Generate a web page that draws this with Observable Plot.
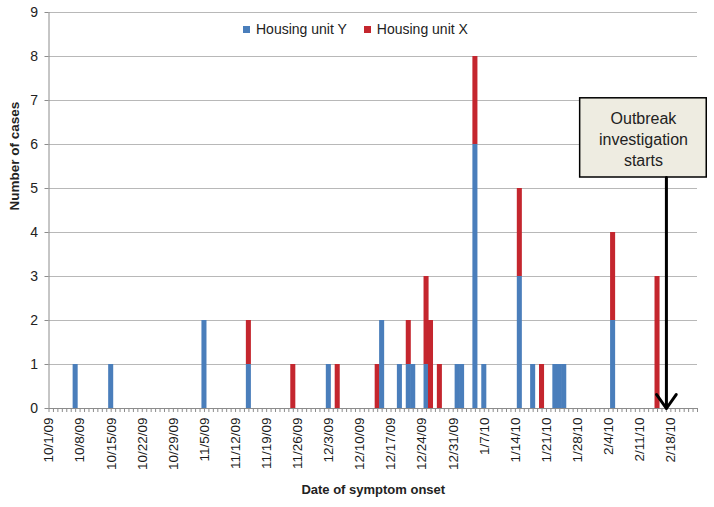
<!DOCTYPE html>
<html>
<head>
<meta charset="utf-8">
<script src="https://cdn.jsdelivr.net/npm/d3@7"></script>
<script src="https://cdn.jsdelivr.net/npm/@observablehq/plot@0.6"></script>
<style>
  html, body { margin: 0; padding: 0; background: #fff; }
  #chart { position: relative; width: 714px; height: 507px; font-family: "Liberation Sans", Arial, sans-serif; color: #222; }
  #chart svg { display: block; }
  .legend { position: absolute; top: 20px; left: 243px; display: flex; align-items: center; font-size: 14px; line-height: 18px; color: #222; white-space: nowrap; }
  .legend .item { display: flex; align-items: center; margin-right: 17px; }
  .legend .sw { width: 7px; height: 7px; margin-right: 6px; }
</style>
</head>
<body>
<div id="chart"></div>
<script>
// ---- data ----
const dates = [
  "2009-10-07", "2009-10-15", "2009-11-05", "2009-11-15", "2009-11-25",
  "2009-12-03", "2009-12-05", "2009-12-14", "2009-12-15", "2009-12-19",
  "2009-12-21", "2009-12-22", "2009-12-25", "2009-12-26", "2009-12-28",
  "2010-01-01", "2010-01-02", "2010-01-05", "2010-01-07", "2010-01-15",
  "2010-01-18", "2010-01-20", "2010-01-23", "2010-01-24", "2010-01-25",
  "2010-02-05", "2010-02-15"
];
const unitY = [1, 1, 2, 1, 0, 1, 0, 0, 2, 1, 1, 1, 1, 0, 0, 1, 1, 6, 1, 3, 1, 0, 1, 1, 1, 2, 0];
const unitX = [0, 0, 0, 1, 1, 0, 1, 1, 0, 0, 1, 0, 2, 2, 1, 0, 0, 2, 0, 2, 0, 1, 0, 0, 0, 2, 3];
const seriesNames = ["Housing unit Y", "Housing unit X"];
const seriesColors = ["#4a7ebb", "#c4262e"];
const yTicks = [0, 1, 2, 3, 4, 5, 6, 7, 8, 9];
const xTickLabels = [
  "10/1/09", "10/8/09", "10/15/09", "10/22/09", "10/29/09", "11/5/09", "11/12/09",
  "11/19/09", "11/26/09", "12/3/09", "12/10/09", "12/17/09", "12/24/09", "12/31/09",
  "1/7/10", "1/14/10", "1/21/10", "1/28/10", "2/4/10", "2/11/10", "2/18/10"
];
const xDomain = ["2009-10-01", "2010-02-24"];
const annotationLines = ["Outbreak", "investigation", "starts"];
const annotationBox = { x1: "2010-01-28T14:00Z", x2: "2010-02-26T02:00Z", y1: 5.25, y2: 7.05 };
const annotationArrow = { date: "2010-02-17", y1: 5.25, y2: 0 };

// ---- build ----
const parse = d3.isoParse;
const rows = [];
dates.forEach((d, i) => {
  const date = parse(d);
  if (unitY[i] > 0) rows.push({ date, series: seriesNames[0], count: unitY[i] });
  if (unitX[i] > 0) rows.push({ date, series: seriesNames[1], count: unitX[i] });
});
const xStart = parse(xDomain[0]);
const xEnd = parse(xDomain[1]);
const allDays = d3.utcDay.range(xStart, d3.utcDay.offset(xEnd, 1));
const parseTick = d3.utcParse("%m/%d/%y");
const tickDates = xTickLabels.map(parseTick);
const labelByTime = new Map(tickDates.map((d, i) => [+d, xTickLabels[i]]));
const boxMid = new Date((+parse(annotationBox.x1) + +parse(annotationBox.x2)) / 2);
const axisColor = "#8c8c8c";

const plot = Plot.plot({
  width: 714,
  height: 507,
  marginLeft: 48.5,
  marginRight: 17,
  marginTop: 12,
  marginBottom: 99,
  style: { fontFamily: "'Liberation Sans', Arial, sans-serif", color: "#222", background: "transparent", overflow: "visible" },
  x: { type: "utc", domain: [xStart, xEnd], axis: null },
  y: { domain: [0, 9], axis: null },
  color: { domain: seriesNames, range: seriesColors },
  marks: [
    Plot.ruleY(yTicks, { stroke: "#b8b8b8", strokeWidth: 1 }),
    Plot.rectY(rows, {
      x1: d => d3.utcHour.offset(d.date, -12),
      x2: d => d3.utcHour.offset(d.date, 12),
      y: "count",
      fill: "series",
      order: seriesNames,
      insetLeft: -0.3,
      insetRight: -0.3
    }),
    Plot.ruleX([xStart], { stroke: axisColor, strokeWidth: 1 }),
    Plot.ruleY([0], { stroke: axisColor, strokeWidth: 1 }),
    Plot.axisY({ ticks: yTicks, tickSize: 4, tickPadding: 7, fontSize: 14, stroke: axisColor, fill: "#222", label: null }),
    Plot.axisX({ ticks: allDays, tickSize: 4, tickFormat: () => "", stroke: axisColor, label: null }),
    Plot.axisX({ ticks: tickDates, tickSize: 0, tickPadding: 9, tickRotate: -90, fontSize: 13.5, fill: "#1a1a1a",
      tickFormat: d => labelByTime.get(+d), label: null }),
    Plot.rect([annotationBox], {
      x1: d => parse(d.x1), x2: d => parse(d.x2), y1: "y1", y2: "y2",
      fill: "#eeece1", stroke: "#000", strokeWidth: 1.5
    }),
    Plot.text([annotationLines.join("\n")], {
      x: boxMid, y: (annotationBox.y1 + annotationBox.y2) / 2,
      text: d => d, fontSize: 16, lineHeight: 1.32, fill: "#222"
    }),
    Plot.arrow([annotationArrow], {
      x1: d => parse(d.date), x2: d => parse(d.date), y1: "y1", y2: "y2",
      stroke: "#000", strokeWidth: 3, headLength: 8.5, headAngle: 70
    }),
    Plot.text(["Number of cases"], { frameAnchor: "left", dx: -34, rotate: -90, fontSize: 13.5, fontWeight: "bold", fill: "#222" }),
    Plot.text(["Date of symptom onset"], { frameAnchor: "bottom", dy: 85, fontSize: 13, fontWeight: "bold", fill: "#222" })
  ]
});

const chart = document.getElementById("chart");
chart.appendChild(plot);

const legend = document.createElement("div");
legend.className = "legend";
seriesNames.forEach((name, i) => {
  const item = document.createElement("div");
  item.className = "item";
  const sw = document.createElement("span");
  sw.className = "sw";
  sw.style.background = seriesColors[i];
  const label = document.createElement("span");
  label.textContent = name;
  item.appendChild(sw);
  item.appendChild(label);
  legend.appendChild(item);
});
chart.appendChild(legend);
</script>
</body>
</html>
